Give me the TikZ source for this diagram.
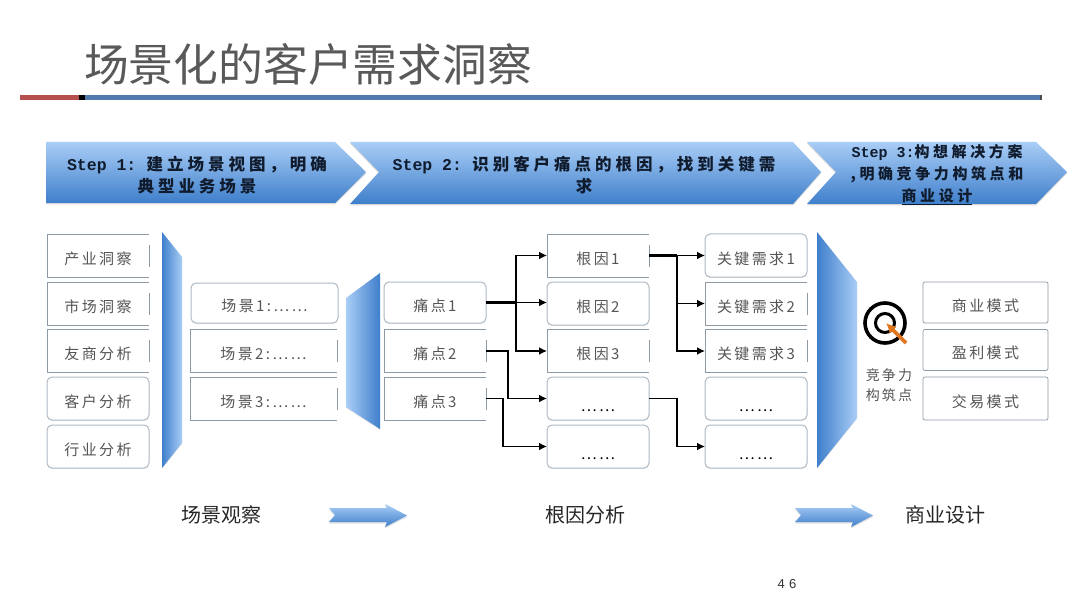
\documentclass[tikz,border=0pt]{standalone}
\usepackage{fontspec}
\setmainfont{Liberation Sans}
\newfontfamily\cjk{Noto Sans CJK SC}
\newfontfamily\cjkwide[LetterSpace=16]{Noto Sans CJK SC}
\newfontfamily\cjkstep[LetterSpace=24]{Noto Sans CJK SC}
\newfontfamily\stepmono{Liberation Mono}
\usetikzlibrary{arrows.meta,positioning,shadows}
\definecolor{cTitle}{HTML}{595959}
\definecolor{cRed}{HTML}{B5504F}
\definecolor{cRule}{HTML}{4F7CAC}
\definecolor{cInk}{HTML}{101C2E}
\definecolor{cLabel}{HTML}{555555}
\definecolor{cEdge}{HTML}{8E9AA6}
\definecolor{cSoft}{HTML}{AEB9C4}
\definecolor{cBlueLight}{HTML}{A9CDF6}
\definecolor{cBlueDark}{HTML}{3F7FCB}
\definecolor{cOrange}{HTML}{E0761F}
\newcommand{\lowdots}{\raisebox{-4pt}{\textcolor{black}{……}}}
\newcommand{\widecomma}{\char"FF0C\relax}

\begin{document}
\begin{tikzpicture}[
  x=1pt, y=-1pt,
  font=\cjkwide\fontsize{15}{17}\selectfont,
  line cap=butt, line join=miter,
  link/.style={draw=black, line width=1.8pt,
    -{Latex[length=8pt,width=8pt]}},
  linkheavy/.style={draw=black, line width=3pt},
  tagopen/.style={minimum height=43pt, inner sep=0pt, outer sep=0pt,
    text=cLabel, align=center, text height=17.5pt, text depth=0pt},
  taground/.style={tagopen, draw=cSoft, line width=1pt, rounded corners=5pt,
    fill=white, drop shadow={opacity=.15,shadow xshift=0pt,shadow yshift=-1pt}},
  tagside/.style={tagopen, minimum width=102pt},
  sidebox/.style={tagside, taground},
  scenebox/.style={tagopen, minimum width=147pt},
  modebox/.style={tagopen, minimum width=125pt, draw=cEdge, line width=.7pt,
    rounded corners=2pt, fill=white},
  stepband/.style={top color=cBlueLight, bottom color=cBlueDark,
    drop shadow={opacity=.3,shadow xshift=0pt,shadow yshift=-1.5pt}},
  steptext/.style={font=\cjkstep\bfseries\fontsize{16.5}{22.5}\selectfont, text=cInk, align=center},
  phase/.style={font=\cjk\fontsize{20}{24}\selectfont, text=black!85},
  blockarrow/.style={top color=cBlueLight, bottom color=cBlueDark,
    drop shadow={opacity=.25,shadow xshift=0pt,shadow yshift=-1.5pt}},
]
\useasboundingbox (0,0) rectangle (1080,607);

% ---- Open box (top, left and bottom edge, short bar on the right) ----
\newcommand{\openbox}[1]{%
  \draw[cEdge, line width=.8pt] (#1.north east) -- (#1.north west)
    -- (#1.south west) -- (#1.south east);
  \draw[cEdge, line width=1pt] ([yshift=11pt]#1.east) -- ([yshift=-11pt]#1.east);}

% ---- Title and rule ----
\node[font=\cjk\fontsize{44.8}{50}\selectfont, text=cTitle, anchor=west, inner sep=0pt] (title) at (84,64)
  {场景化的客户需求洞察};
\fill[cRule] (85,95) rectangle (1041,100.5);
\fill[cRed] (20,95) rectangle (79,100.5);
\fill[black] (79,95) rectangle (85,100.5);
\fill[black!70] (1040,95) rectangle (1042,100.5);

% ---- Step bands (left to right) ----
\shade[stepband] (46,142) -- (335,142) -- (366,172) -- (335,203) -- (46,203) -- cycle;
\shade[stepband] (350,142) -- (793,142) -- (821,172) -- (793,204) -- (350,204) -- (379,172) -- cycle;
\shade[stepband] (807,142) -- (1036,142) -- (1067,172) -- (1036,204) -- (807,204) -- (836,172) -- cycle;
\node[steptext] (stepa) at (197,175)
  {{\stepmono\bfseries Step 1:} 建立场景视图\widecomma 明确\\典型业务场景};
\node[steptext] (stepb) at (584,175)
  {{\stepmono\bfseries Step 2:} 识别客户痛点的根因\widecomma 找到关键需\\求};
\node[steptext, font=\cjkstep\bfseries\fontsize{15}{22}\selectfont] (stepc) at (937,175)
  {{\stepmono\bfseries Step 3:}构想解决方案\\,明确竞争力构筑点和\\\underline{商业设计}};

% ---- Column 1: insight sources ----
\node[tagside, anchor=north west] (src1) at (47,234) {产业洞察};
\node[tagside, below=5pt of src1] (src2) {市场洞察};
\node[tagside, below=4.5pt of src2] (src3) {友商分析};
\node[sidebox, below=4.5pt of src3] (src4) {客户分析};
\node[sidebox, below=5pt of src4] (src5) {行业分析};
\openbox{src1}
\openbox{src2}
\openbox{src3}

% ---- Funnels ----
\shade[left color=cBlueDark, right color=cBlueLight, drop shadow={opacity=.2,shadow xshift=0pt,shadow yshift=-1pt}]
  (162,232) -- (182,257) -- (182,443) -- (162,468) -- cycle;
\shade[left color=cBlueLight, right color=cBlueDark, drop shadow={opacity=.2,shadow xshift=0pt,shadow yshift=-1pt}]
  (380,273) -- (346,298) -- (346,407) -- (380,429) -- cycle;
\shade[left color=cBlueDark, right color=cBlueLight, drop shadow={opacity=.2,shadow xshift=0pt,shadow yshift=-1pt}]
  (817,232) -- (857,282) -- (857,418) -- (817,468) -- cycle;

% ---- Column 2: scenes ----
\node[scenebox, taground, minimum height=40pt, anchor=north west] (scene1) at (191,283)
  {场景1:……};
\node[scenebox, anchor=north west] (scene2) at (190,329.5) {场景2:……};
\node[scenebox, anchor=north west] (scene3) at (190,377) {场景3:……};
\openbox{scene2}
\openbox{scene3}

% ---- Column 3: pain points ----
\node[sidebox, minimum height=41pt, anchor=north west] (pain1) at (384,282) {痛点1};
\node[tagside, anchor=north west] (pain2) at (384,329.5) {痛点2};
\node[tagside, anchor=north west] (pain3) at (384,377) {痛点3};
\openbox{pain2}
\openbox{pain3}

% ---- Column 4: root causes ----
\node[tagside, anchor=north west] (cause1) at (547,234) {根因1};
\node[sidebox, below=5pt of cause1] (cause2) {根因2};
\node[tagside, below=4.5pt of cause2] (cause3) {根因3};
\node[sidebox, below=4.5pt of cause3] (cause4) {\lowdots};
\node[sidebox, below=5pt of cause4] (cause5) {\lowdots};
\openbox{cause1}
\openbox{cause3}

% ---- Column 5: key needs ----
\node[sidebox, anchor=north west] (need1) at (705,234) {关键需求1};
\node[tagside, below=5pt of need1] (need2) {关键需求2};
\node[tagside, below=4.5pt of need2] (need3) {关键需求3};
\node[sidebox, below=4.5pt of need3] (need4) {\lowdots};
\node[sidebox, below=5pt of need4] (need5) {\lowdots};
\openbox{need2}
\openbox{need3}

% ---- Target ----
\draw[black, line width=3.6pt] (885,323) circle (20pt);
\draw[black, line width=3pt] (885,323) circle (9.5pt);
\coordinate (aimtail) at (906,343);
\coordinate (aimtip) at (886,323);
\draw[cOrange, line width=3.6pt, -{Latex[length=10pt,width=10pt]}] (aimtail) -- (aimtip);
\node[align=center, text=cLabel, font=\cjkwide\fontsize{14}{20}\selectfont] (edge) at (889,385)
  {竞争力\\构筑点};

% ---- Column 6: business models ----
\node[modebox, anchor=north west] (mode1) at (923,282) [minimum height=41pt] {商业模式};
\node[modebox, anchor=north west] (mode2) at (923,329.5) [minimum height=41pt] {盈利模式};
\node[modebox, anchor=north west] (mode3) at (923,377) {交易模式};

% ---- Links ----
\coordinate (trunkp) at (516,0 |- pain1.east);
\coordinate (trunkc) at (677,0 |- cause1.east);
\draw[linkheavy] (pain1.east) -- (trunkp);
\draw[linkheavy] (cause1.east) -- (trunkc);
\draw[link] (trunkp) |- (cause1.west);
\draw[link] (trunkp) -- (cause2.west |- trunkp);
\draw[link] (trunkp) |- (cause3.west);
\draw[link] (pain2.east) -- (508,0 |- pain2.east) |- (cause4.west);
\draw[link] (pain3.east) -- (503,0 |- pain3.east) |- (cause5.west);
\draw[link] (trunkc) -- (need1.west);
\draw[link] (trunkc) |- (need2.west);
\draw[link] (trunkc) |- (need3.west);
\draw[link] (cause4.east) -- (677,0 |- cause4.east) |- (need5.west);

% ---- Phases ----
\node[phase] (phasea) at (221,515) {场景观察};
\node[phase] (phaseb) at (585,515) {根因分析};
\node[phase] (phasec) at (945,515) {商业设计};
\shade[blockarrow] (329,508) -- (387,508) -- (385,504) -- (407,515.5) -- (385,527) -- (387,522) -- (329,522) -- (335,515) -- cycle;
\shade[blockarrow] (795,508) -- (853,508) -- (851,504) -- (873,515.5) -- (851,527) -- (853,522) -- (795,522) -- (801,515) -- cycle;

\node[font=\fontsize{13}{15}\selectfont, text=black!80] (pagenum) at (787,584) {4\,\,6};

\end{tikzpicture}
\end{document}
